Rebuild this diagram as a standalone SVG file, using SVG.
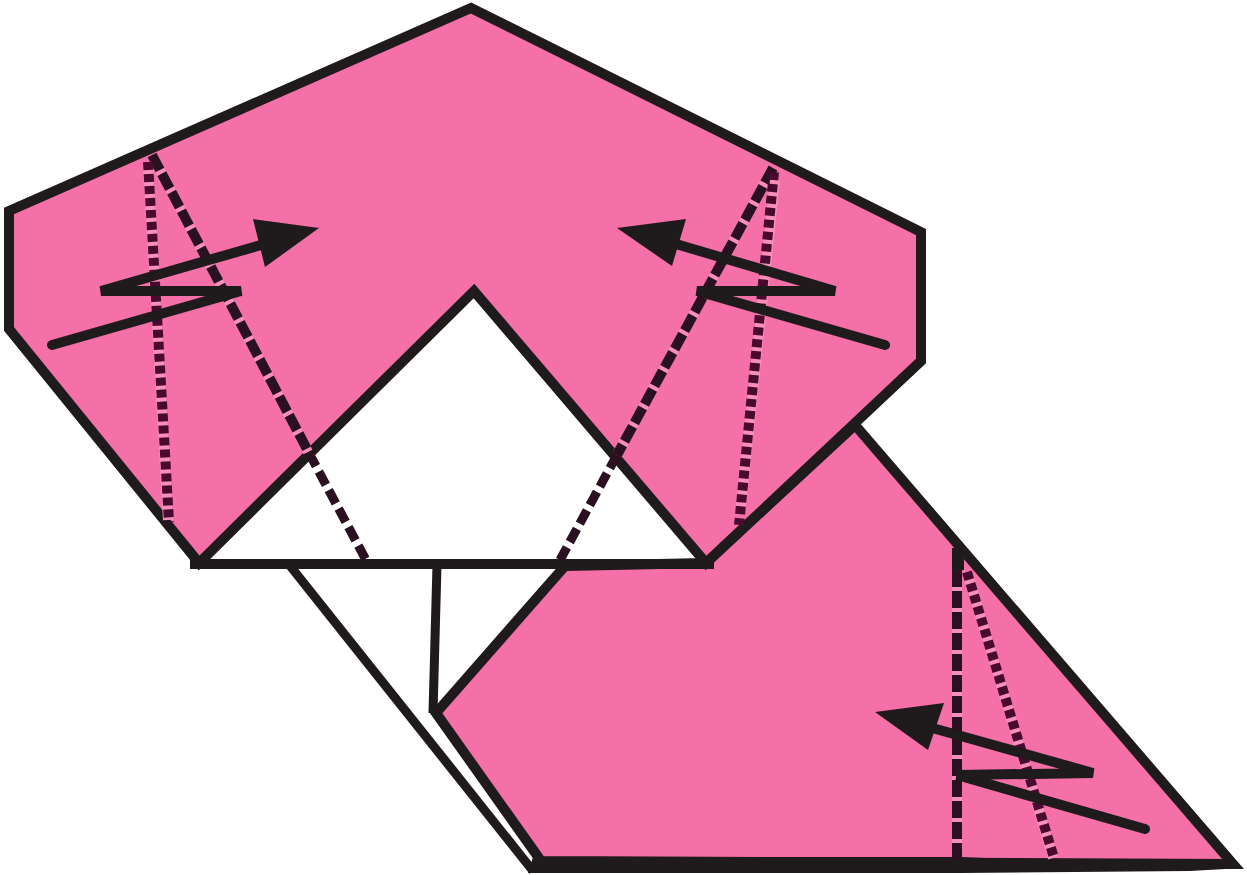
<svg xmlns="http://www.w3.org/2000/svg" width="1247" height="875" viewBox="0 0 1247 875">
<style>
.paper{fill:#f56fa8;stroke:#1f1a1c;stroke-width:10;stroke-linejoin:miter}
.edge{fill:none;stroke:#1f1a1c;stroke-width:10;stroke-linecap:butt}
.thin{fill:none;stroke:#1f1a1c;stroke-width:9;stroke-linecap:butt}
.halo{fill:none;stroke:#f88fbb;stroke-width:10}
.dash{fill:none;stroke:#2a1020;stroke-width:10;stroke-dasharray:17 4}
.dashW{fill:none;stroke:#2a1020;stroke-width:9;stroke-dasharray:15 6}
.dot{fill:none;stroke:#4a0a30;stroke-width:10;stroke-dasharray:8 4}
.arrow{fill:none;stroke:#1f1a1c;stroke-width:10;stroke-linejoin:miter;stroke-linecap:round}
.head{fill:#1f1a1c}
</style>
<rect width="1247" height="875" fill="#fff"/>
<g id="lower-flap">
<polyline class="thin" points="287,562 533,871"/>
<line class="thin" x1="437" y1="565" x2="433" y2="713"/>
<polygon class="paper" points="855,425 1233,864 541,861 436,713 565,566 706,563" />
<polygon points="533,857 960,857 1243,868 1190,871 960,873 528,873" fill="#1f1a1c"/>
<rect x="952" y="548" width="12" height="22" fill="#1f1a1c"/>
</g>
<g id="upper-flap">
<polygon class="paper" points="471,8 921,232 921,361 706,563 474,291 199,563 9,329 9,211"/>
<line class="edge" x1="190" y1="564" x2="714" y2="564"/>
</g>
<g id="fold-lines">
<line class="halo" x1="152" y1="155" x2="308" y2="452"/>
<line class="dash" x1="152" y1="155" x2="309" y2="453"/>
<line class="dashW" x1="309" y1="453" x2="366" y2="560"/>
<line class="halo" x1="148" y1="165" x2="168" y2="520"/>
<line class="dot" x1="148" y1="162" x2="169" y2="522"/>
<line class="halo" x1="773" y1="168" x2="617" y2="455"/>
<line class="dash" x1="773" y1="168" x2="617" y2="455"/>
<line class="dashW" x1="617" y1="455" x2="560" y2="560"/>
<line class="halo" x1="775" y1="180" x2="740" y2="515"/>
<line class="dot" x1="774" y1="172" x2="739" y2="525"/>
<line class="halo" x1="957" y1="570" x2="957" y2="858"/>
<line class="dash" x1="957" y1="570" x2="957" y2="860"/>
<line class="halo" x1="968" y1="575" x2="1053" y2="858"/>
<line class="dot" x1="967" y1="572" x2="1054" y2="858"/>
</g>
<g id="arrow-left">
<polyline class="arrow" points="52,345 241,291 101,291 268,243"/>
<polygon class="head" points="319,228 253,219 265,267"/>
</g>
<g id="arrow-right">
<polyline class="arrow" points="885,345 697,291 835,291 676,244"/>
<polygon class="head" points="617,228 686,219 672,266"/>
</g>
<g id="arrow-lower">
<polyline class="arrow" points="1145,829 957,775 1093,773 936,729"/>
<polygon class="head" points="875,712 944,703 928,750"/>
</g>
</svg>
